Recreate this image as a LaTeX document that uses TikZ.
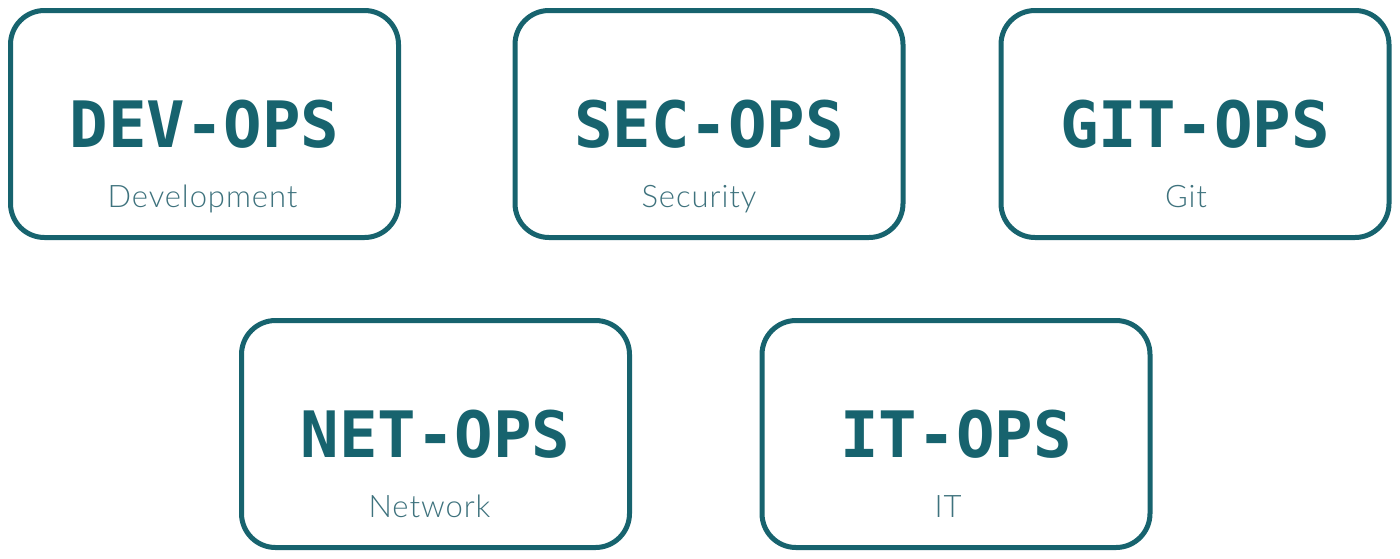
\documentclass[tikz,border=0pt]{standalone}
\usepackage{fontspec}
\setmainfont{Lato Light}[LetterSpace=3]
\newfontfamily\titlefont{DejaVu Sans Mono}
\definecolor{teal1}{HTML}{17636E}
\definecolor{teal2}{HTML}{3E727D}
\begin{document}
\begin{tikzpicture}[x=1pt,y=-1pt,
  box/.style={draw=teal1,line width=5pt,rounded corners=34pt,minimum width=388pt,minimum height=227pt,inner sep=0pt,fill=white},
  ttl/.style={text=teal1,font=\titlefont\bfseries\fontsize{64}{64}\selectfont,inner sep=0pt,anchor=center},
  sub/.style={text=teal2,font=\fontsize{31}{31}\selectfont,inner sep=0pt,anchor=base}]
\useasboundingbox (0,0) rectangle (1400,558);
\node[box] (b1) at (204.5,124) {};
\node[box] (b2) at (709,124) {};
\node[box] (b3) at (1195,124) {};
\node[box] (b4) at (435.5,434) {};
\node[box] (b5) at (956,434) {};
\node[ttl] (t1) at (b1.center) {DEV-OPS};
\node[ttl] (t2) at (b2.center) {SEC-OPS};
\node[ttl] (t3) at (b3.center) {GIT-OPS};
\node[ttl] (t4) at (b4.center) {NET-OPS};
\node[ttl] (t5) at (b5.center) {IT-OPS};
\node[sub] (s1) at ([xshift=-2pt,yshift=-83pt]b1.center) {Development};
\node[sub] (s2) at ([xshift=-10pt,yshift=-83pt]b2.center) {Security};
\node[sub] (s3) at ([xshift=-9pt,yshift=-83pt]b3.center) {Git};
\node[sub] (s4) at ([xshift=-6pt,yshift=-83pt]b4.center) {Network};
\node[sub] (s5) at ([xshift=-8pt,yshift=-83pt]b5.center) {IT};
\end{tikzpicture}
\end{document}
